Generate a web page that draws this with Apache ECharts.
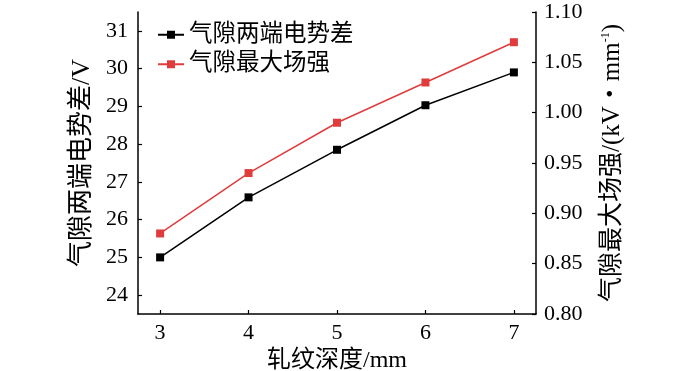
<!DOCTYPE html>
<html><head><meta charset="utf-8">
<script src="https://cdn.jsdelivr.net/npm/echarts@6/dist/echarts.min.js"></script>
<style>html,body{margin:0;padding:0;background:#fff}#c{width:700px;height:371px}</style>
</head><body><div id="c"></div>
<script>
const depths = [3, 4, 5, 6, 7];
const potentialDiff = [25.0, 26.59, 27.85, 29.03, 29.90];
const maxField = [0.88, 0.94, 0.99, 1.03, 1.07];
const xTicks = [3, 4, 5, 6, 7];
const leftTicks = [24, 25, 26, 27, 28, 29, 30, 31];
const seriesNames = ['气隙两端电势差', '气隙最大场强'];

const FONT = '"Liberation Serif", "Noto Sans CJK SC", serif';
const chart = echarts.init(document.getElementById('c'), null, {renderer: 'canvas'});
const axisLine = {show: true, lineStyle: {color: '#000', width: 1.5}};
const axisTick = {show: true, inside: true, length: 4, lineStyle: {color: '#000', width: 1.2}};
const axisLabelBase = {color: '#000', fontFamily: FONT, fontSize: 22};

chart.setOption({
  animation: false,
  backgroundColor: '#fff',
  grid: {left: 138, right: 164, top: 12, bottom: 57, containLabel: false, outerBoundsMode: 'none'},
  legend: {
    orient: 'vertical', left: 152, top: 18, itemWidth: 26, itemHeight: 10, itemGap: 6,
    textStyle: {color: '#000', fontFamily: FONT, fontSize: 23.5},
    data: seriesNames
  },
  xAxis: {
    type: 'value', min: 2.75, max: 7.25,
    name: '轧纹深度/mm', nameLocation: 'middle', nameGap: 33,
    nameTextStyle: {color: '#000', fontFamily: FONT, fontSize: 24},
    axisLine: axisLine,
    axisTick: Object.assign({customValues: xTicks}, axisTick),
    axisLabel: Object.assign({customValues: xTicks, margin: 8}, axisLabelBase),
    splitLine: {show: false}
  },
  yAxis: [{
    type: 'value', min: 23.5, max: 31.5, position: 'left',
    name: '气隙两端电势差/V', nameLocation: 'middle', nameGap: 41, nameRotate: 90,
    nameTextStyle: {color: '#000', fontFamily: FONT, fontSize: 26},
    axisLine: axisLine,
    axisTick: Object.assign({customValues: leftTicks}, axisTick),
    axisLabel: Object.assign({customValues: leftTicks, margin: 10}, axisLabelBase),
    splitLine: {show: false}
  }, {
    type: 'value', min: 0.80, max: 1.10, interval: 0.05, position: 'right',
    name: '气隙最大场强/(kV・mm{s|-1})', nameLocation: 'middle', nameGap: 64, nameRotate: 90,
    nameTextStyle: {color: '#000', fontFamily: FONT, fontSize: 25,
      rich: {s: {fontFamily: FONT, fontSize: 12, verticalAlign: 'top', padding: [0, 0, 10, 0]}}},
    axisLine: axisLine,
    axisTick: axisTick,
    axisLabel: Object.assign({margin: 8, formatter: v => v.toFixed(2)}, axisLabelBase),
    splitLine: {show: false}
  }],
  series: [{
    name: seriesNames[0], type: 'line', yAxisIndex: 0,
    data: depths.map((d, i) => [d, potentialDiff[i]]),
    symbol: 'rect', symbolSize: 8,
    itemStyle: {color: '#000'}, lineStyle: {color: '#000', width: 1.5}
  }, {
    name: seriesNames[1], type: 'line', yAxisIndex: 1,
    data: depths.map((d, i) => [d, maxField[i]]),
    symbol: 'rect', symbolSize: 8,
    itemStyle: {color: '#e03c3c'}, lineStyle: {color: '#e03c3c', width: 1.5}
  }]
});
</script></body></html>
